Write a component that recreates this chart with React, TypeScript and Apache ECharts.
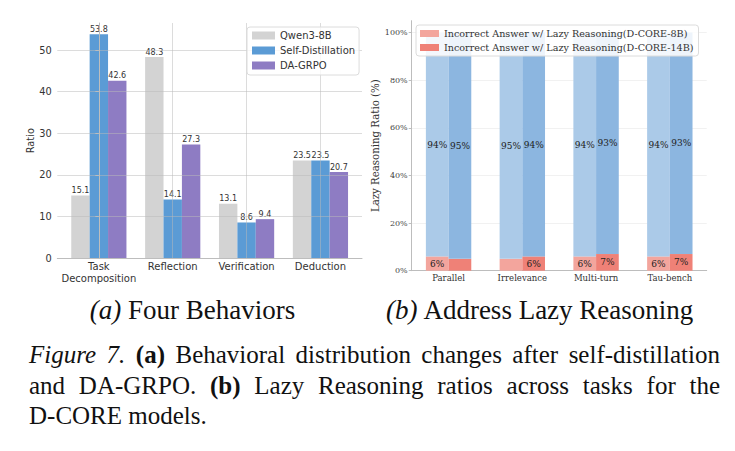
import React, { useEffect, useRef } from 'react';
import * as echarts from 'echarts';

// (a) behaviour ratios per model
const behaviors = ['Task\nDecomposition', 'Reflection', 'Verification', 'Deduction'];
const qwenRatio = [15.1, 48.3, 13.1, 23.5];
const selfDistillRatio = [53.8, 14.1, 8.6, 23.5];
const daGrpoRatio = [42.6, 27.3, 9.4, 20.7];
const ratioTicks = [0, 10, 20, 30, 40, 50];

// (b) lazy reasoning split per task
const tasks = ['Parallel', 'Irrelevance', 'Multi-turn', 'Tau-bench'];
const lazyWrong8B = [6, 5, 6, 6];
const lazyRest8B = [94, 95, 94, 94];
const lazyWrong14B = [5, 6, 7, 7];
const lazyRest14B = [95, 94, 93, 93];

const SANS = 'DejaVu Sans';
const SERIF = 'DejaVu Serif';

function App() {
  const ref = useRef<HTMLDivElement>(null);

  useEffect(() => {
    if (!ref.current) return;
    const chart = echarts.init(ref.current, null, { renderer: 'svg' });

    const gridLine = 'rgba(185,185,185,0.5)';
    const spine = '#bdbdbd';

    const pairs = (vals: number[]) => vals.map((v, i) => [i, v]);
    const leftBar = (name: string, vals: number[], color: string) => ({
      name,
      type: 'bar',
      xAxisIndex: 0,
      yAxisIndex: 0,
      data: pairs(vals),
      barWidth: 18.4,
      barGap: '0%',
      itemStyle: { color },
      label: {
        show: true,
        position: 'top',
        distance: 1,
        fontFamily: SANS,
        fontSize: 8,
        color: '#333',
        formatter: (p: any) => Number(p.value[1]).toFixed(1),
      },
    });

    const rightBar = (name: string, stack: string, vals: number[], color: string, minLabel: number) => ({
      name,
      type: 'bar',
      xAxisIndex: 1,
      yAxisIndex: 1,
      stack,
      data: vals,
      barWidth: 22.7,
      barGap: '0%',
      itemStyle: { color },
      label: {
        show: true,
        position: 'inside',
        fontFamily: SERIF,
        fontSize: 9,
        color: '#222',
        formatter: (p: any) => (p.value >= minLabel ? `${p.value}%` : ''),
      },
    });

    chart.setOption({
      animation: false,
      backgroundColor: '#fff',
      grid: [
        { left: 57.3, top: 23, width: 304.7, height: 235.3 },
        { left: 411.7, top: 20.7, width: 295, height: 250 },
      ],
      xAxis: [
        {
          type: 'value',
          gridIndex: 0,
          min: -0.5625,
          max: 3.5625,
          splitNumber: 4,
          z: 3,
          axisLine: { show: true, lineStyle: { color: spine, width: 1 } },
          axisTick: { show: false },
          axisLabel: {
            fontFamily: SANS,
            fontSize: 10,
            lineHeight: 12,
            color: '#333',
            margin: 2,
            formatter: (v: number) => {
              const r = Math.round(v);
              return Math.abs(v - r) < 1e-6 && behaviors[r] ? behaviors[r] : '';
            },
          },
          splitLine: { show: true, showMinLine: false, showMaxLine: false, lineStyle: { color: gridLine, width: 1 } },
        },
        {
          type: 'category',
          gridIndex: 1,
          data: tasks,
          boundaryGap: true,
          axisLine: { show: true, lineStyle: { color: spine, width: 1 } },
          axisTick: { show: false },
          axisLabel: { fontFamily: SERIF, fontSize: 8.5, color: '#333', margin: 3 },
          splitLine: { show: false },
        },
      ],
      yAxis: [
        {
          type: 'value',
          gridIndex: 0,
          min: ratioTicks[0],
          max: 56.49,
          interval: 10,
          z: 3,
          name: 'Ratio',
          nameLocation: 'middle',
          nameGap: 17,
          nameTextStyle: { fontFamily: SANS, fontSize: 9.8, color: '#333' },
          axisLine: { show: true, lineStyle: { color: spine, width: 1 } },
          axisTick: { show: true, length: 3.5, lineStyle: { color: spine } },
          axisLabel: { fontFamily: SANS, fontSize: 9.8, color: '#333', margin: 5.6, showMaxLabel: false },
          splitLine: { show: true, showMaxLine: false, lineStyle: { color: gridLine, width: 1 } },
        },
        {
          type: 'value',
          gridIndex: 1,
          min: 0,
          max: 105,
          interval: 20,
          name: 'Lazy Reasoning Ratio (%)',
          nameLocation: 'middle',
          nameGap: 29,
          nameTextStyle: { fontFamily: SERIF, fontSize: 10.2, color: '#333' },
          axisLine: { show: true, lineStyle: { color: spine, width: 1 } },
          axisTick: { show: true, length: 3, lineStyle: { color: spine } },
          axisLabel: { fontFamily: SERIF, fontSize: 8, color: '#444', margin: 4, formatter: '{value}%', showMaxLabel: false },
          splitLine: { show: true, showMaxLine: false, lineStyle: { color: '#f1f1f1', width: 1 } },
        },
      ],
      legend: [
        {
          data: ['Qwen3-8B', 'Self-Distillation', 'DA-GRPO'],
          orient: 'vertical',
          left: 247,
          top: 27,
          padding: [2, 4, 3, 5],
          itemWidth: 23,
          itemHeight: 8,
          itemGap: 2,
          itemTextGap: 4,
          icon: 'rect',
          backgroundColor: 'rgba(255,255,255,0.8)',
          borderColor: '#dcdcdc',
          borderWidth: 1,
          borderRadius: 3,
          textStyle: { fontFamily: SANS, fontSize: 10, lineHeight: 13, color: '#333' },
        },
        {
          data: [
            'Incorrect Answer w/ Lazy Reasoning(D-CORE-8B)',
            'Incorrect Answer w/ Lazy Reasoning(D-CORE-14B)',
          ],
          orient: 'vertical',
          left: 416,
          top: 25,
          padding: [3, 5, 3, 4],
          itemWidth: 19,
          itemHeight: 7,
          itemGap: 3,
          itemTextGap: 8,
          icon: 'rect',
          backgroundColor: 'rgba(255,255,255,0.85)',
          borderColor: '#dcdcdc',
          borderWidth: 1,
          borderRadius: 3,
          textStyle: { fontFamily: SERIF, fontSize: 9.6, lineHeight: 11, color: '#333' },
        },
      ],
      series: [
        leftBar('Qwen3-8B', qwenRatio, '#d3d3d3'),
        leftBar('Self-Distillation', selfDistillRatio, '#5b9bd5'),
        leftBar('DA-GRPO', daGrpoRatio, '#8e7cc3'),
        rightBar('Incorrect Answer w/ Lazy Reasoning(D-CORE-8B)', 'd8b', lazyWrong8B, '#f3a59d', 6),
        rightBar('Other (D-CORE-8B)', 'd8b', lazyRest8B, '#abcae8', 0),
        rightBar('Incorrect Answer w/ Lazy Reasoning(D-CORE-14B)', 'd14b', lazyWrong14B, '#ef8177', 6),
        rightBar('Other (D-CORE-14B)', 'd14b', lazyRest14B, '#8cb6e0', 0),
      ],
      graphic: [
        {
          type: 'text',
          x: 192.5,
          y: 310,
          style: {
            text: '{i|(a)} Four Behaviors',
            fontFamily: 'Liberation Serif',
            fontSize: 27,
            fill: '#111',
            align: 'center',
            verticalAlign: 'middle',
            rich: { i: { fontFamily: 'Liberation Serif', fontSize: 27, fontStyle: 'italic', fill: '#111' } },
          },
        },
        {
          type: 'text',
          x: 540,
          y: 310,
          style: {
            text: '{i|(b)} Address Lazy Reasoning',
            fontFamily: 'Liberation Serif',
            fontSize: 27,
            fill: '#111',
            align: 'center',
            verticalAlign: 'middle',
            rich: { i: { fontFamily: 'Liberation Serif', fontSize: 27, fontStyle: 'italic', fill: '#111' } },
          },
        },
      ],
    });

    return () => chart.dispose();
  }, []);

  const justified: React.CSSProperties = {
    textAlign: 'justify',
    textAlignLast: 'justify',
    height: 30.5,
    whiteSpace: 'nowrap',
  };

  return (
    <div style={{ position: 'absolute', left: 0, top: 0, width: 735, height: 451, background: '#fff' }}>
      <div ref={ref} style={{ position: 'absolute', left: 0, top: 0, width: 735, height: 451 }} />
      <div
        style={{
          position: 'absolute',
          left: 29,
          top: 340,
          width: 691,
          fontFamily: '"Liberation Serif", serif',
          fontSize: 25,
          lineHeight: '30.5px',
          color: '#111',
        }}
      >
        <div style={justified}>
          <i>Figure 7.</i> <b>(a)</b> Behavioral distribution changes after self-distillation
        </div>
        <div style={justified}>
          and DA-GRPO. <b>(b)</b> Lazy Reasoning ratios across tasks for the
        </div>
        <div style={{ height: 30.5, whiteSpace: 'nowrap' }}>D-CORE models.</div>
      </div>
    </div>
  );
}

export default App;
